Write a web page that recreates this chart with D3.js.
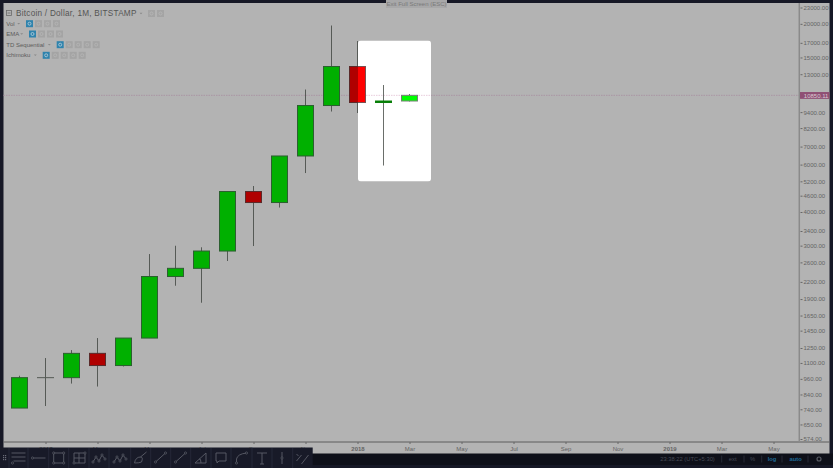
<!DOCTYPE html>
<html><head><meta charset="utf-8">
<script src="https://cdnjs.cloudflare.com/ajax/libs/d3/7.8.5/d3.min.js"></script>
<style>html,body{margin:0;padding:0;background:#141622;overflow:hidden}svg{display:block}text{font-family:"Liberation Sans",Arial,sans-serif}</style>
</head><body><svg id="c" width="833" height="468"></svg>
<script>
const months=[-13,-12,-11,-10,-9,-8,-7,-6,-5,-4,-3,-2,-1,0,1,2];
const opens =[748,970,970,1194,1076,1361,2304,2471,2865,4766,4338,6459,9946,13885,10205,10337];
const closes=[970,970,1194,1076,1361,2304,2471,2865,4766,4338,6459,9946,13885,10205,10337,10850];
const highs =[986,1147,1228,1361,1361,2792,2997,2958,4786,4996,6459,11404,19718,17268,11852,10974];
const lows  =[748,761,922,899,1067,1361,2129,1841,2631,2990,4156,5582,9448,9326,5953,10293];
const priceTicks=[23000,20000,17000,15000,13000,9400,8200,7000,6000,5200,4600,4000,3400,3000,2600,2200,1900,1650,1450,1250,1100,960,840,740,650,574];
const timeTicks=[-12,-10,-8,-6,-4,-2,0,2,4,6,8,10,12,14,16];
const timeLabels=["2017","Mar","May","Jul","Sep","Nov","2018","Mar","May","Jul","Sep","Nov","2019","Mar","May"];
const legendNames=["Vol","EMA","TD Sequential","Ichimoku"];
const legendButtons=[4,4,5,5];
const statusLabels=["23:38:22 (UTC+5:30)","ext","%","log","auto"];
const lastPrice=10850.11;

const svg=d3.select("#c");
const x=d3.scaleLinear().domain([0,16]).range([357.5,773.5]);
const y=d3.scaleLog().domain([574,23000]).range([439,7.5]);
const W=16;
const defs=svg.append("defs");
defs.append("clipPath").attr("id","hole").append("rect").attr("x",358).attr("y",40.5).attr("width",73).attr("height",141).attr("rx",3);

svg.append("rect").attr("width",833).attr("height",468).attr("fill","#161826");
svg.append("rect").attr("x",3.5).attr("y",3).attr("width",826).attr("height",451).attr("fill","#b3b3b3");

function candles(g,up,down,upEdge,downEdge,wick){
  const c=g.selectAll("g").data(months).join("g");
  c.append("line").attr("x1",d=>x(d)).attr("x2",d=>x(d))
    .attr("y1",(d,i)=>y(highs[i])).attr("y2",(d,i)=>y(lows[i]))
    .attr("stroke",wick).attr("stroke-width",1);
  c.append("rect").attr("x",d=>x(d)-W/2).attr("width",W)
    .attr("y",(d,i)=>y(Math.max(opens[i],closes[i])))
    .attr("height",(d,i)=>Math.max(Math.abs(y(opens[i])-y(closes[i])),0.01))
    .attr("fill",(d,i)=>closes[i]>=opens[i]?up:down)
    .attr("stroke",(d,i)=>opens[i]===closes[i]?wick:closes[i]>opens[i]?upEdge:downEdge).attr("stroke-width",1);
}
function priceLine(g,color){
  g.append("line").attr("x1",3.5).attr("x2",799).attr("y1",y(lastPrice)).attr("y2",y(lastPrice))
   .attr("stroke",color).attr("stroke-width",1).attr("stroke-dasharray","1.5 1");
}
priceLine(svg,"#aa96a4");
candles(svg.append("g"),"#00b000","#b00000","#2c5f30","#5a2a2a","#565a56");

const hole=svg.append("g").attr("clip-path","url(#hole)");
hole.append("rect").attr("x",358).attr("y",40.5).attr("width",73).attr("height",141).attr("fill","#fff");
priceLine(hole,"#e8ccdc");
const hc=hole.append("g");
candles(hc,"#00ff00","#ff0000","#777f77","#7a5050","#6a6e6a");
hc.selectAll("g").filter(d=>d===1).select("rect").attr("fill","#007f00").attr("stroke","#0a7f0a");

svg.append("line").attr("x1",3.5).attr("x2",829.5).attr("y1",442).attr("y2",442).attr("stroke","#5c5c5c").attr("stroke-width",1);
svg.append("line").attr("x1",799.3).attr("x2",799.3).attr("y1",3).attr("y2",442).attr("stroke","#8a8a8a").attr("stroke-width",1.5);
const ya=svg.append("g").attr("transform","translate(800.5,0)")
  .call(d3.axisRight(y).tickValues(priceTicks).tickFormat(d3.format(".2f")).tickSize(2).tickPadding(1));
ya.select(".domain").remove();
ya.selectAll("line").attr("stroke","#666");
ya.selectAll("text").attr("fill","#646464").attr("font-size",6);
const xa=svg.append("g").attr("transform","translate(0,442)")
  .call(d3.axisBottom(x).tickValues(timeTicks).tickFormat((d,i)=>timeLabels[i]).tickSize(2).tickPadding(2.8));
xa.select(".domain").remove();
xa.selectAll("line").attr("stroke","#666");
xa.selectAll("text").attr("fill","#646464").attr("font-size",6);
xa.selectAll("text").filter((d,i)=>timeLabels[i].length===4).attr("font-weight","bold");

svg.append("rect").attr("x",800).attr("y",y(lastPrice)-3.3).attr("width",29.5).attr("height",6.8).attr("fill","#8f4f74");
svg.append("text").attr("x",803.8).attr("y",y(lastPrice)+2.2).attr("font-size",6).attr("fill","#d8cad3").text(d3.format(".2f")(lastPrice));

svg.append("rect").attr("x",386).attr("y",0).attr("width",61).attr("height",8).attr("fill","#a8a8a9");
svg.append("text").attr("x",416.5).attr("y",6.3).attr("text-anchor","middle").attr("font-size",6).attr("fill","#7a7a7a").text("Exit Full Screen (ESC)");

const grey="#6a6a6a";
svg.append("rect").attr("x",6.5).attr("y",10.5).attr("width",5).attr("height",5).attr("fill","none").attr("stroke",grey).attr("stroke-width",.8);
svg.append("line").attr("x1",7.5).attr("x2",10.5).attr("y1",13).attr("y2",13).attr("stroke",grey).attr("stroke-width",.8);
svg.append("text").attr("x",16).attr("y",16).attr("font-size",8.2).attr("fill","#555").attr("letter-spacing",.25).text("Bitcoin / Dollar, 1M, BITSTAMP");
function caret(cx,cy){svg.append("path").attr("d",`M${cx-1.5},${cy-.7}h3l-1.5,1.5z`).attr("fill","#8a8a8a");}
function btns(x0,yc,n,active){
  for(let i=0;i<n;i++){
    svg.append("rect").attr("x",x0+i*9).attr("y",yc-3.5).attr("width",7).attr("height",7).attr("fill",active&&i===0?"#2f83ad":"#a4a4a4");
    svg.append("circle").attr("cx",x0+i*9+3.5).attr("cy",yc).attr("r",1.5).attr("fill","none").attr("stroke",active&&i===0?"#bcd0da":"#b6b6b6").attr("stroke-width",.8);
  }
}
caret(141,13.5);btns(148,13.5,2,false);
const rowX=[26,29,56.7,42.7], rowY=[23.7,34,44.7,55.3], caretX=[18.7,21.7,49.3,35.3];
legendNames.forEach((n,i)=>{
  svg.append("text").attr("x",6.3).attr("y",rowY[i]+2).attr("font-size",6).attr("fill","#5c5c5c").text(n);
  caret(caretX[i],rowY[i]);
  btns(rowX[i],rowY[i],legendButtons[i],true);
});

svg.append("rect").attr("x",0).attr("y",453.5).attr("width",833).attr("height",11.5).attr("fill","#0e1019");
const sx=[687.5,732.7,752.7,772,795.7];
statusLabels.forEach((s,i)=>svg.append("text").attr("x",sx[i]).attr("y",461).attr("text-anchor","middle")
  .attr("font-size",5.8).attr("font-weight",i>2?"bold":"normal").attr("fill",i>2?"#1f6a97":"#474a55").text(s));
[721.7,744,761.7,782,808].forEach(v=>svg.append("line").attr("x1",v).attr("x2",v).attr("y1",455.5).attr("y2",462.5).attr("stroke","#262936"));
svg.append("circle").attr("cx",819).attr("cy",459).attr("r",2).attr("fill","none").attr("stroke","#575a63").attr("stroke-width",1.2);

svg.append("rect").attr("x",0).attr("y",447.5).attr("width",312.7).attr("height",20.5).attr("fill","#181a28");
d3.range(2).forEach(a=>d3.range(3).forEach(b=>svg.append("rect").attr("x",3+a*2).attr("y",455+b*2).attr("width",1.2).attr("height",1.2).attr("fill","#6a6d78")));
const seps=[9,28,48.7,68.7,89,109,130.7,150.7,170.7,190.7,211,231,252,272,292.7];
seps.forEach(v=>svg.append("line").attr("x1",v).attr("x2",v).attr("y1",448).attr("y2",468).attr("stroke","#252838"));
const icons=[
 "M-7,-5H7M-7,-1H7M-5,3H7M-7,7","M-6,0H7",
 "M-5,-5H5V5H-5Z","M-5,-5H6V5H-5ZM0,-5V5M-5,0H6",
 "M-6,4L-3,-1L0,3L3,-3L6,1","M-6,4L-3,-1L0,3L3,-3L6,1",
 "M-6,5Q-5,-1 0,-1Q3,-1 1,4Q-1,5 -6,5M0,-1L6,-6","M-5,4L5,-5","M-5,4L5,-5",
 "M-6,5L5,-5V5ZM0,5Q0,0 -2,1","M-5,-5H5V3H-2L-4,5V3H-5Z","M-5,5V1Q-4,-4 5,-5",
 "M-5,-5H5M0,-5V6M-2,6H2","M0,-6V6","M-6,3L-1,-3M-1,6L6,-3M-6,-4L-4,-2"];
const dots=[[[-6,5]],[[-6,0]],[[-5,-5],[5,-5],[-5,5],[5,5]],[[-5,5],[6,-5]],[[-6,4],[-3,-1],[0,3],[3,-3],[6,1]],[[-6,4],[-3,-1],[0,3],[3,-3],[6,1]],[],[[-5,4],[5,-5]],[[-5,4],[5,-5]],[],[],[[-5,5],[5,-5]],[],[[0,0]],[]];
const centers=[18.5,38.5,58.7,79,99,120,140.5,160.5,180.5,201,221,241.5,262,282,302.5];
centers.forEach((cx,i)=>{
  const g=svg.append("g").attr("transform",`translate(${cx},458)`);
  g.append("path").attr("d",icons[i]).attr("fill","none").attr("stroke","#5b5e69").attr("stroke-width",.9);
  dots[i].forEach(p=>g.append("circle").attr("cx",p[0]).attr("cy",p[1]).attr("r",1.1).attr("fill","#181a28").attr("stroke","#5b5e69").attr("stroke-width",.7));
});
</script></body></html>
